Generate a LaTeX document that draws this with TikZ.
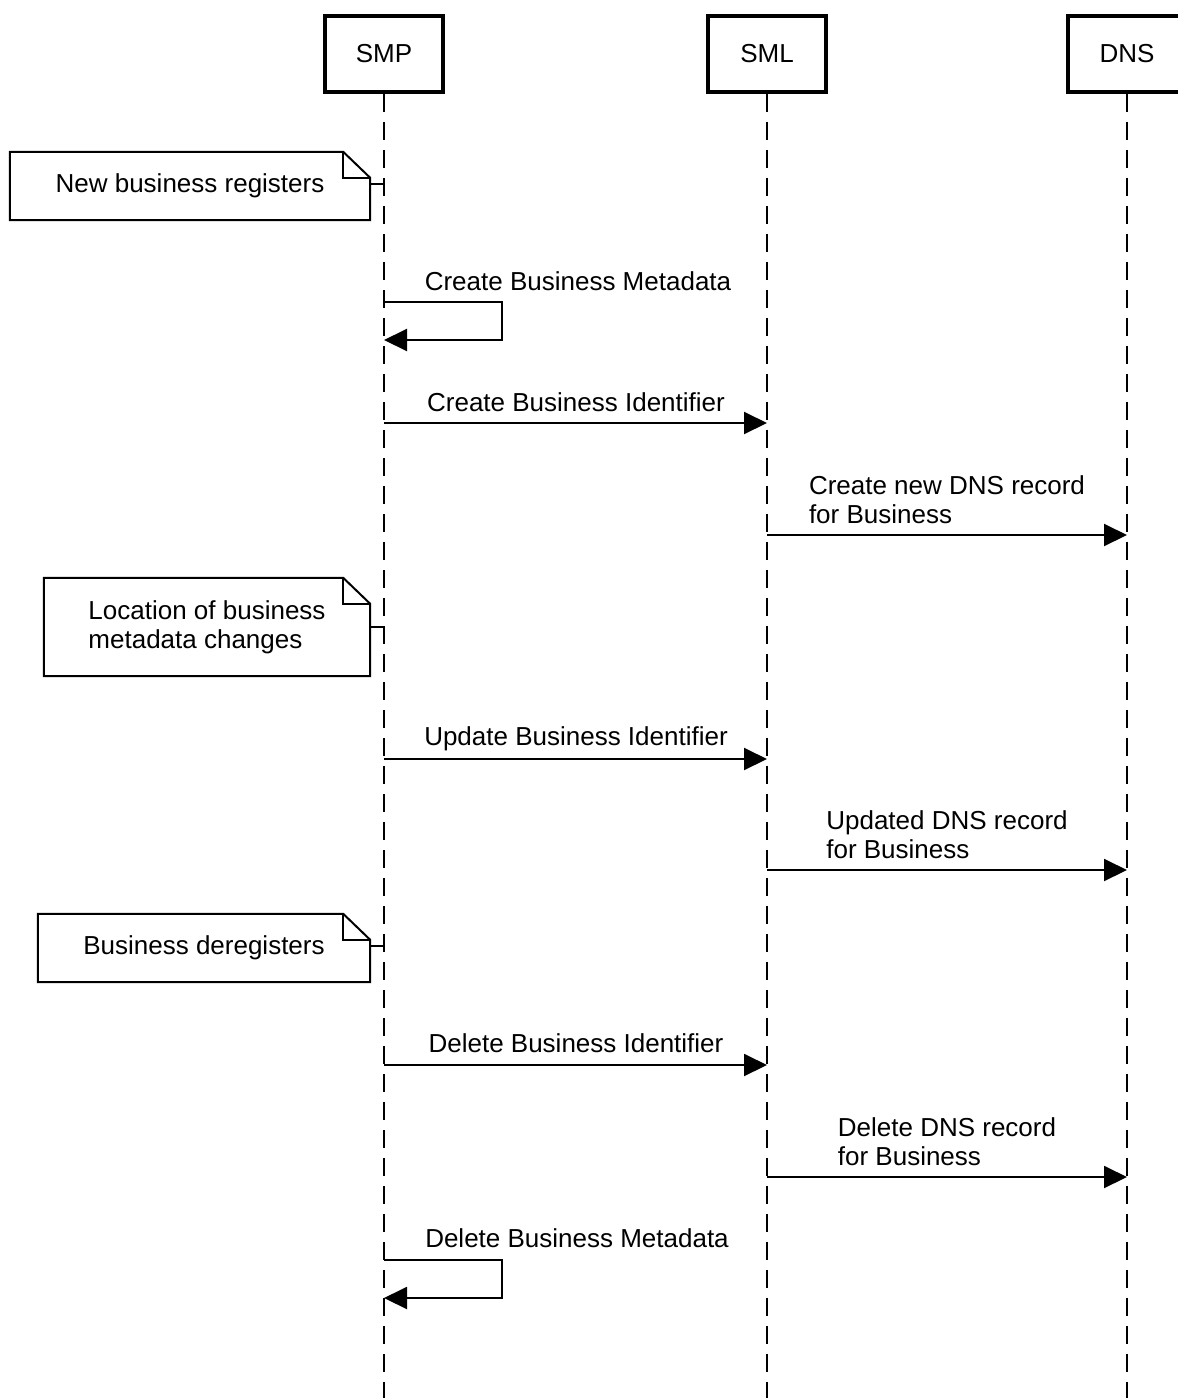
\documentclass[tikz,border=0pt]{standalone}
\usepackage{fontspec}
\setmainfont{Liberation Sans}
\usetikzlibrary{arrows.meta}
\begin{document}
\begin{tikzpicture}[x=1pt,y=-1pt,
  every node/.style={font=\fontsize{26}{29}\selectfont, inner sep=0pt},
  actor/.style={draw, line width=3.5pt, minimum width=118pt, minimum height=76pt},
  life/.style={line width=2pt, dash pattern=on 18pt off 10pt},
  msg/.style={line width=2pt, -{Triangle[length=23pt,width=22pt]}},
  lbl/.style={anchor=base},
  lbl2/.style={anchor=base, align=left},
  notebox/.style={align=left},
  noteline/.style={line width=2pt, line join=miter},
]
\useasboundingbox (0,0) rectangle (1178,1398);
% actors
\node[actor] (smp) at (384,54) {SMP};
\node[actor] (sml) at (767,54) {SML};
\node[actor] (dns) at (1127,54) {DNS};
\coordinate (smpE) at (384,1398);
\coordinate (smlE) at (767,1398);
\coordinate (dnsE) at (1127,1398);
\draw[life] (smp.south) -- (smpE);
\draw[life] (sml.south) -- (smlE);
\draw[life] (dns.south) -- (dnsE);

% note 1
\node[notebox, minimum width=360pt, minimum height=68pt] (n1) at (190,186) {New business registers};
\draw[noteline] (n1.south west) -- (n1.north west) -- ([xshift=-27pt]n1.north east) -- ([yshift=-26pt]n1.north east) -- (n1.south east) -- cycle;
\draw[noteline] ([xshift=-27pt]n1.north east) -- ([xshift=-27pt,yshift=-26pt]n1.north east) -- ([yshift=-26pt]n1.north east);
\draw[line width=2pt] ([yshift=2pt]n1.east) -- ([yshift=2pt]n1.east -| smp.south);

% self message 1
\coordinate (s1a) at (384,302);
\coordinate (s1b) at (384,340);
\draw[msg] (s1a) -- ++(118,0) |- (s1b);
\node[lbl] (l1) at (578,290) {Create Business Metadata};

% create business identifier
\coordinate (m2a) at (384,423);
\coordinate (m2b) at (767,423);
\draw[msg] (m2a) -- (m2b);
\node[lbl] (l2) at (576,411) {Create Business Identifier};

% create DNS record
\coordinate (m3a) at (767,535);
\coordinate (m3b) at (1127,535);
\draw[msg] (m3a) -- (m3b);
\node[lbl2] (l3) at (947,523) {Create new DNS record\\for Business};

% note 2
\node[notebox, minimum width=326pt, minimum height=98pt] (n2) at (207,627) {Location of business\\metadata changes};
\draw[noteline] (n2.south west) -- (n2.north west) -- ([xshift=-27pt]n2.north east) -- ([yshift=-26pt]n2.north east) -- (n2.south east) -- cycle;
\draw[noteline] ([xshift=-27pt]n2.north east) -- ([xshift=-27pt,yshift=-26pt]n2.north east) -- ([yshift=-26pt]n2.north east);
\draw[line width=2pt] (n2.east) -- (n2.east -| smp.south);

% update business identifier
\coordinate (m4a) at (384,759);
\coordinate (m4b) at (767,759);
\draw[msg] (m4a) -- (m4b);
\node[lbl] (l4) at (576,745) {Update Business Identifier};

% updated DNS record
\coordinate (m5a) at (767,870);
\coordinate (m5b) at (1127,870);
\draw[msg] (m5a) -- (m5b);
\node[lbl2] (l5) at (947,858) {Updated DNS record\\for Business};

% note 3
\node[notebox, minimum width=332pt, minimum height=68pt] (n3) at (204,948) {Business deregisters};
\draw[noteline] (n3.south west) -- (n3.north west) -- ([xshift=-27pt]n3.north east) -- ([yshift=-26pt]n3.north east) -- (n3.south east) -- cycle;
\draw[noteline] ([xshift=-27pt]n3.north east) -- ([xshift=-27pt,yshift=-26pt]n3.north east) -- ([yshift=-26pt]n3.north east);
\draw[line width=2pt] ([yshift=2pt]n3.east) -- ([yshift=2pt]n3.east -| smp.south);

% delete business identifier
\coordinate (m6a) at (384,1065);
\coordinate (m6b) at (767,1065);
\draw[msg] (m6a) -- (m6b);
\node[lbl] (l6) at (576,1052) {Delete Business Identifier};

% delete DNS record
\coordinate (m7a) at (767,1177);
\coordinate (m7b) at (1127,1177);
\draw[msg] (m7a) -- (m7b);
\node[lbl2] (l7) at (947,1165) {Delete DNS record\\for Business};

% self message 2
\coordinate (s2a) at (384,1260);
\coordinate (s2b) at (384,1298);
\draw[msg] (s2a) -- ++(118,0) |- (s2b);
\node[lbl] (l8) at (577,1247) {Delete Business Metadata};
\end{tikzpicture}
\end{document}
